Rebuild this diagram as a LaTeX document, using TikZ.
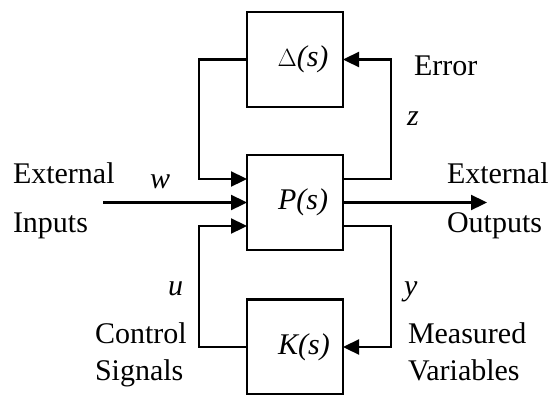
\documentclass[tikz,border=0pt]{standalone}
\usepackage{fontspec}
\setmainfont{Liberation Serif}
\usetikzlibrary{arrows.meta,calc}
\begin{document}
\begin{tikzpicture}[x=1pt,y=-1pt,
  every node/.style={font=\fontsize{30}{36}\selectfont, inner sep=0pt, outer sep=0pt},
  blockbox/.style={draw, line width=2.3pt, minimum width=96pt, minimum height=95pt},
  wire/.style={line width=2.3pt},
  arr/.style={wire, -{Triangle[length=16pt,width=15pt]}},
  lbl/.style={anchor=base west}]
\clip (0,0) rectangle (552,394);
\fill[white] (0,0) rectangle (552,394);
% blocks
\node[blockbox, label={[xshift=8pt]center:$\Delta$\textit{(s)}}] (D) at (295,59.5) {};
\node[blockbox, label={[xshift=8pt]center:\textit{P(s)}}] (P) at (295,202.5) {};
\node[blockbox, label={[xshift=9pt]center:\textit{K(s)}}] (K) at (295,347) {};
% border points
\coordinate (Pw1) at ($(P.west)+(0,-23.5)$);
\coordinate (Pw3) at ($(P.west)+(0,23.5)$);
\coordinate (Pe1) at ($(P.east)+(0,-23.5)$);
\coordinate (Pe3) at ($(P.east)+(0,23.5)$);
\coordinate (in) at (103,202.5);
\coordinate (out) at (487,202.5);
% connectors
\draw[arr] (D.west) -- ++(-48,0) |- (Pw1);
\draw[arr] (Pe1) -- ++(48,0) |- (D.east);
\draw[arr] (in) -- (P.west);
\draw[arr] (P.east) -- (out);
\draw[arr] (Pe3) -- ++(48,0) |- (K.east);
\draw[arr] (K.west) -- ++(-48,0) |- (Pw3);
% labels
\node[lbl] (t1) at (13,183) {External};
\node[lbl] (t2) at (13,232) {Inputs};
\node[lbl] (t3) at (447,183) {External};
\node[lbl] (t4) at (447,232) {Outputs};
\node[lbl] (t5) at (150,188) {\textit{w}};
\node[lbl] (t6) at (414,75) {Error};
\node[lbl] (t7) at (407,125) {\textit{z}};
\node[lbl] (t8) at (168,295) {\textit{u}};
\node[lbl] (t9) at (404,295) {\textit{y}};
\node[lbl] (t10) at (95,343) {Control};
\node[lbl] (t11) at (95,380) {Signals};
\node[lbl] (t12) at (408,343) {Measured};
\node[lbl] (t13) at (408,380) {Variables};
\end{tikzpicture}
\end{document}
